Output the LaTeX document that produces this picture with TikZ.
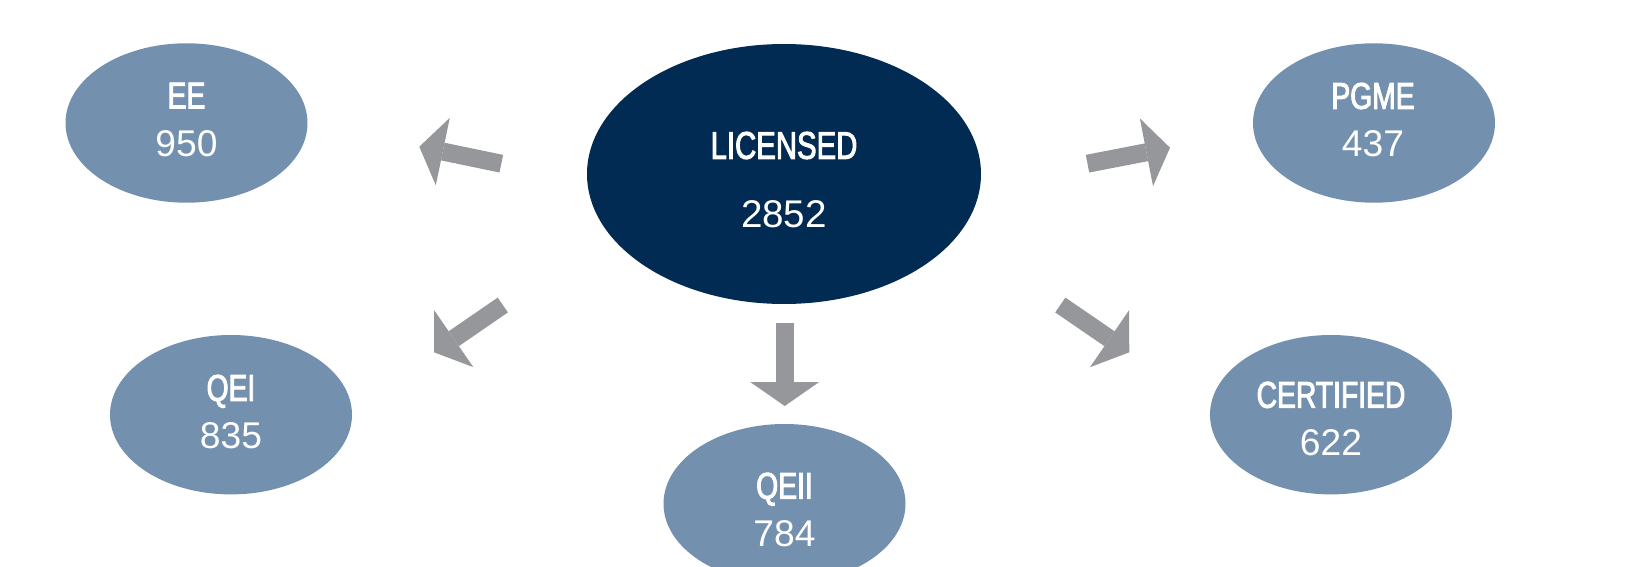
\documentclass[tikz,border=0pt]{standalone}
\usepackage{fontspec}
\setmainfont{Liberation Sans}
\newfontfamily\schmal[FakeStretch=0.76,FakeBold=2.5]{Liberation Sans}
\usetikzlibrary{shapes.geometric,arrows.meta}
\definecolor{dunkelblau}{RGB}{2,43,83}
\definecolor{graublau}{RGB}{116,144,175}
\definecolor{pfeilgrau}{RGB}{150,151,155}

\begin{document}
\begin{tikzpicture}[x=0.5pt,y=-0.5pt,>=latex,
  klein/.style={ellipse,fill=graublau,inner sep=0pt,minimum width=121pt,minimum height=79.7pt},
  gross/.style={ellipse,fill=dunkelblau,inner sep=0pt,minimum width=197pt,minimum height=130pt},
  kleintext/.style={text=white,inner sep=0pt,align=center,font=\fontsize{18.6}{24}\selectfont},
  grosstext/.style={text=white,inner sep=0pt,align=center,font=\fontsize{19.3}{34.5}\selectfont},
  pfeil/.style={draw=pfeilgrau,line width=9pt,-{Triangle[width=34.5pt,length=12pt,line width=0pt,fill=pfeilgrau]}}]

%Rahmen
\clip (0,0) rectangle (1646,567);
\useasboundingbox (0,0) rectangle (1646,567);

%Ellipsen
\node[gross] (lic) at (784,174) {};
\node[klein] (ee) at (186.5,123) {};
\node[klein] (qei) at (231,414.7) {};
\node[klein] (qeii) at (784.5,503.7) {};
\node[klein] (pgme) at (1374,123) {};
\node[klein] (cert) at (1331,414.7) {};

%Beschriftung
\node[grosstext] (lictext) at (784,180) {{\schmal LICENSED}\\ 2852};
\node[kleintext] (eetext) at (186.5,119.7) {{\schmal EE}\\ 950};
\node[kleintext] (qeitext) at (231,412) {{\schmal QEI}\\ 835};
\node[kleintext] (qeiitext) at (784.5,509.9) {{\schmal QEII}\\ 784};
\node[kleintext] (pgmetext) at (1373,120) {{\schmal PGME}\\ 437};
\node[kleintext] (certtext) at (1331,418.9) {{\schmal CERTIFIED}\\ 622};

%Pfeile
\coordinate (ee1) at (501.3,163.7);
\coordinate (ee2) at (419.3,146.7);
\coordinate (qei1) at (502.8,305);
\coordinate (qei2) at (434,352.3);
\coordinate (qeii1) at (784.7,322.7);
\coordinate (qeii2) at (784.7,406);
\coordinate (pgme1) at (1087.5,163.7);
\coordinate (pgme2) at (1170,147.7);
\coordinate (cert1) at (1060.3,305);
\coordinate (cert2) at (1129.3,352.3);
\draw[pfeil] (ee1) -- (ee2);
\draw[pfeil] (qei1) -- (qei2);
\draw[pfeil] (qeii1) -- (qeii2);
\draw[pfeil] (pgme1) -- (pgme2);
\draw[pfeil] (cert1) -- (cert2);

\end{tikzpicture}
\end{document}
